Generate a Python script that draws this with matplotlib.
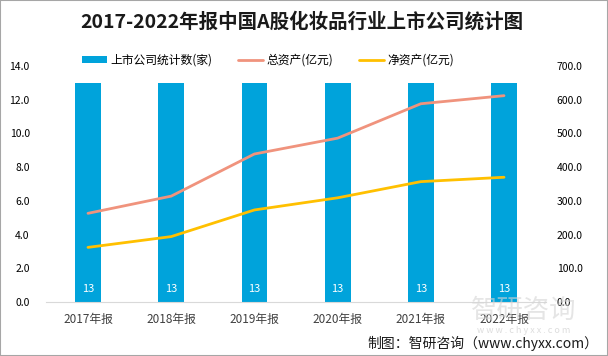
import numpy as np
import matplotlib.pyplot as plt
from matplotlib.patches import Rectangle

plt.rcParams['font.family'] = ['Noto Sans CJK SC', 'DejaVu Sans']

# 数据
年份 = ['2017年报', '2018年报', '2019年报', '2020年报', '2021年报', '2022年报']
公司数 = [13, 13, 13, 13, 13, 13]
总资产 = [263, 314, 439, 486, 588, 612]
净资产 = [162, 194, 273, 309, 357, 370]

蓝色 = '#00A3DB'
粉色 = '#F0937D'
黄色 = '#FFC000'

fig = plt.figure(figsize=(6.08, 3.56), dpi=100)
fig.patches.append(Rectangle((0, 0), 1, 1, transform=fig.transFigure, fill=False,
                             edgecolor='#A6A6A6', linewidth=1.5))

# 水印（放在最底层）
fig.text(0.862, 0.128, '智研咨询', ha='center', va='center', fontsize=19, color='#D4D4D4',
         alpha=0.6, zorder=0)
fig.text(0.862, 0.072, 'w w w . c h y x x . c o m', ha='center', va='center', fontsize=6.5,
         color='#CFCFCF', alpha=0.7, zorder=0)

ax = fig.add_axes([0.0763, 0.1517, 0.8211, 0.6629])
ax.patch.set_alpha(0)
x = np.arange(len(年份))
bars = ax.bar(x, 公司数, width=0.31, color=蓝色, label='上市公司统计数(家)', zorder=2)
for xi, v in zip(x, 公司数):
    ax.text(xi, 0.75, str(v), color='white', ha='center', va='center', fontsize=8)

ax.set_xlim(-0.5, len(年份) - 0.5)
ax.set_ylim(0, 14)
ax.set_yticks(np.arange(0, 15, 2))
ax.set_yticklabels([f'{v:.1f}' for v in np.arange(0, 15, 2)])
ax.set_xticks(x)
ax.set_xticklabels(年份, fontsize=8.5, color='#404040')
ax.tick_params(axis='y', length=0, pad=12, labelsize=7.5)
ax.tick_params(axis='x', length=0, pad=8)
for s in ['left', 'right', 'top']:
    ax.spines[s].set_visible(False)
ax.spines['bottom'].set_color('#D9D9D9')

ax2 = ax.twinx()
l1, = ax2.plot(x, 总资产, color=粉色, linewidth=2, label='总资产(亿元)', solid_capstyle='round')
l2, = ax2.plot(x, 净资产, color=黄色, linewidth=2, label='净资产(亿元)', solid_capstyle='round')
ax2.set_ylim(0, 700)
ax2.set_yticks(np.arange(0, 701, 100))
ax2.set_yticklabels([f'{v:.1f}' for v in np.arange(0, 701, 100)])
ax2.tick_params(axis='y', length=0, pad=8, labelsize=7.5)
for s in ['left', 'right', 'top', 'bottom']:
    ax2.spines[s].set_visible(False)

fig.legend([bars, l1, l2], ['上市公司统计数(家)', '总资产(亿元)', '净资产(亿元)'],
           loc='center', bbox_to_anchor=(0.441, 0.83), ncol=3, frameon=False,
           fontsize=8.5, handlelength=2.1, handleheight=0.5, columnspacing=2.2,
           handletextpad=0.3)

fig.text(0.497, 0.938, '2017-2022年报中国A股化妆品行业上市公司统计图', ha='center', va='center',
         fontsize=14, fontweight='bold', color='#1a1a1a')

fig.text(0.985, 0.035, '制图：智研咨询（www.chyxx.com）', ha='right', va='center',
         fontsize=10, color='#1a1a1a')

fig.savefig('out.png', dpi=100)
